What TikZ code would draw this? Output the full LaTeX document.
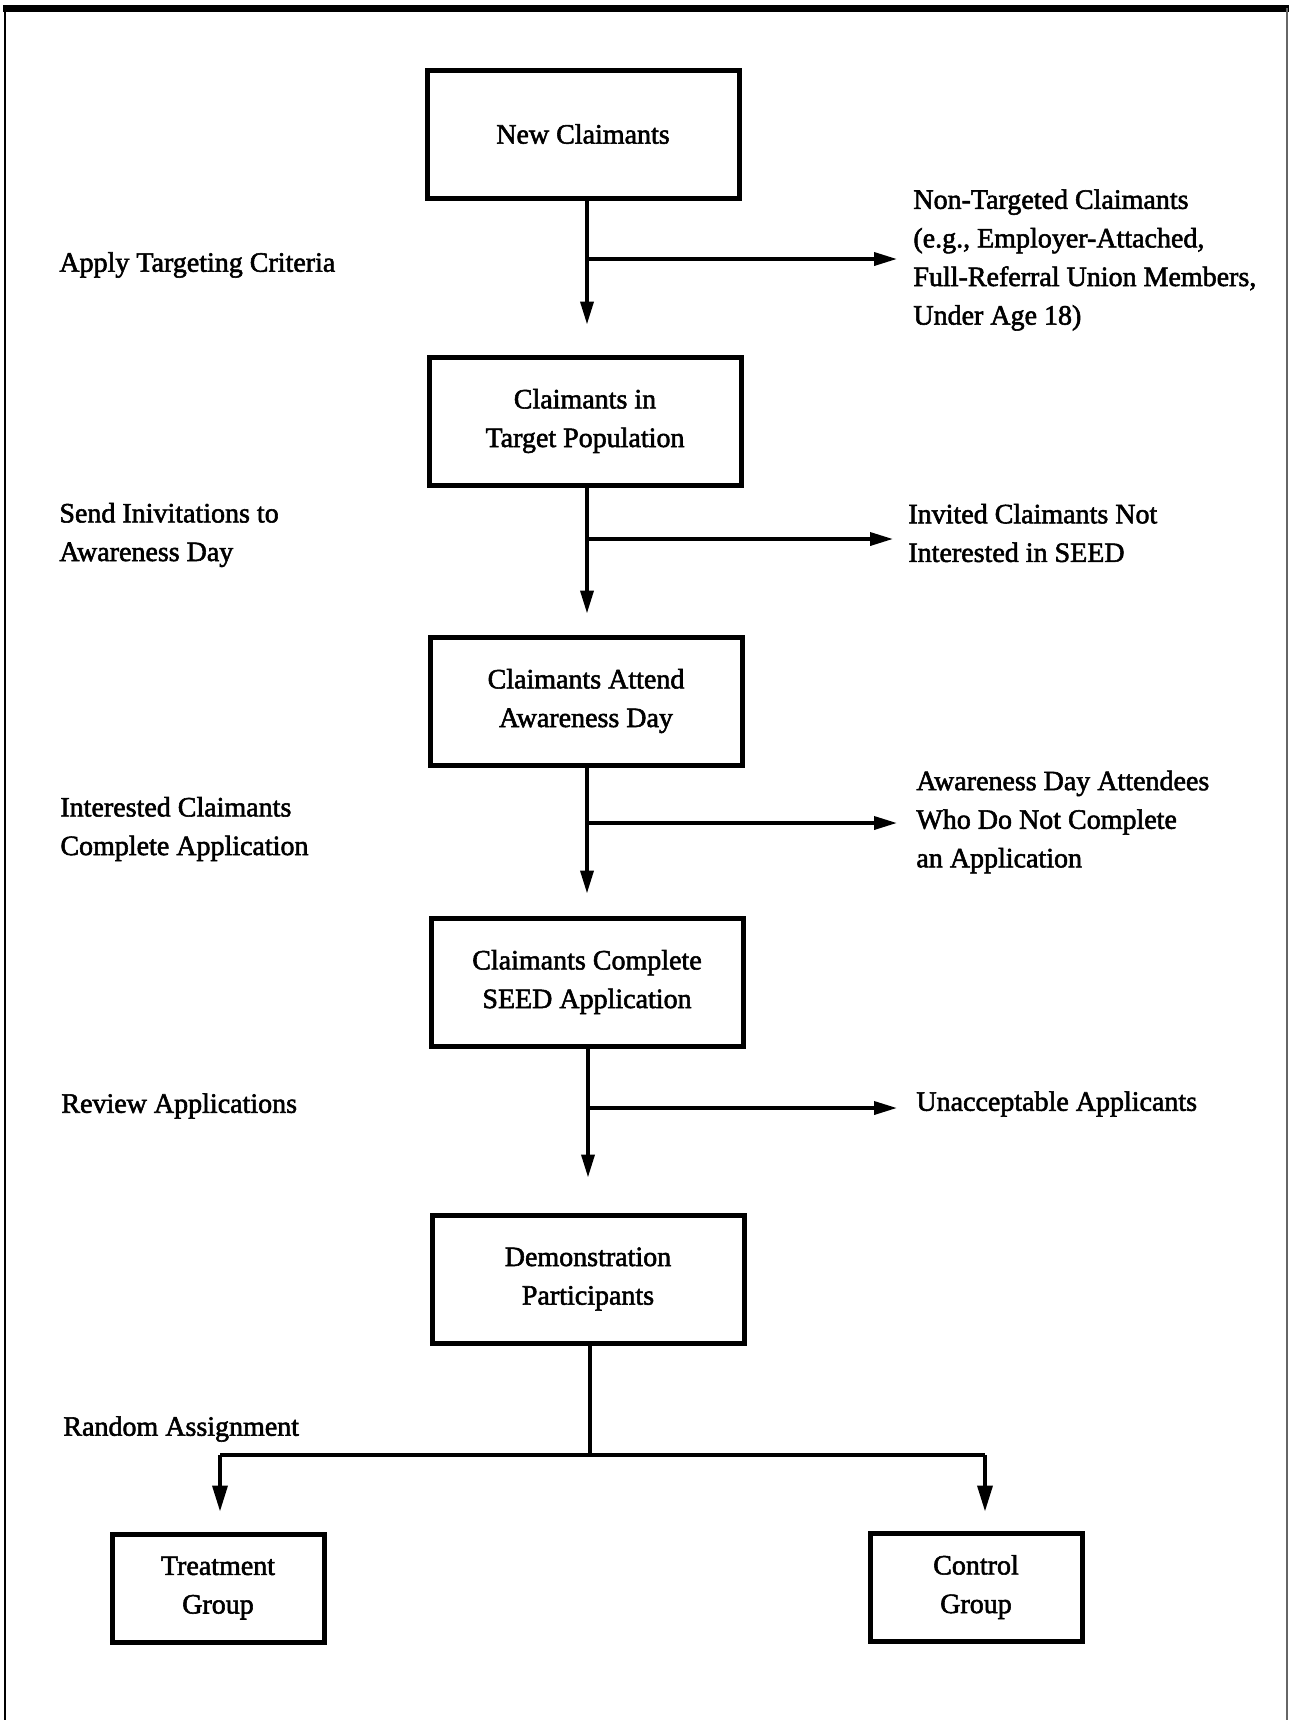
\documentclass[tikz,border=0pt]{standalone}
\usepackage{fontspec}
\setmainfont{Liberation Serif}[BoldFont={Liberation Serif}, BoldFeatures={FakeBold=2}]
\usetikzlibrary{arrows.meta}
\begin{document}
\begin{tikzpicture}[x=0.5pt,y=-0.5pt,
  every node/.style={font=\fontsize{14}{19.3}\selectfont\bfseries},
  box/.style={draw, line width=2.5pt, align=center, inner sep=0pt},
  bigbox/.style={box, minimum width=156pt, minimum height=64pt},
  smallbox/.style={box, minimum width=106pt, minimum height=54pt},
  lbl/.style={anchor=west, align=left, inner sep=0pt},
  conn/.style={line width=1.8pt},
  arr/.style={conn, -{Triangle[length=11.5pt,width=6.5pt]}},
  arrb/.style={conn, -{Triangle[length=13pt,width=7.5pt]}}]
\useasboundingbox (0,0) rectangle (1289,1720);
% frame
\draw[line width=3.5pt] (3,8) -- (1289,8);
\draw[line width=1pt] (5,8) -- (5,1720);
\draw[line width=0.8pt, black!60] (1287,8) -- (1287,1720);

% main boxes
\node[bigbox] (b1) at (583,134) {New Claimants};
\node[bigbox] (b2) at (585,421) {Claimants in\\Target Population};
\node[bigbox] (b3) at (586,701) {Claimants Attend\\Awareness Day};
\node[bigbox] (b4) at (587,982) {Claimants Complete\\SEED Application};
\node[bigbox] (b5) at (588,1279) {Demonstration\\Participants};
\node[smallbox] (t) at (218,1588) {Treatment\\Group};
\node[smallbox] (c) at (976,1587) {Control\\Group};

% left labels
\node[lbl] (l1) at (59,265) {Apply Targeting Criteria};
\node[lbl] (l2) at (59,535) {Send Inivitations to\\Awareness Day};
\node[lbl] (l3) at (60,829) {Interested Claimants\\Complete Application};
\node[lbl] (l4) at (61,1106) {Review Applications};
\node[lbl] (l5) at (63,1429) {Random Assignment};

% right labels
\node[lbl] (r1) at (913,260) {Non-Targeted Claimants\\(e.g., Employer-Attached,\\Full-Referral Union Members,\\Under Age 18)};
\node[lbl] (r2) at (908,533) {Invited Claimants Not\\Interested in SEED};
\node[lbl] (r3) at (916,822) {Awareness Day Attendees\\Who Do Not Complete\\an Application};
\node[lbl] (r4) at (916,1104) {Unacceptable Applicants};

% junctions
\coordinate (j1) at (587,259);
\coordinate (j2) at (587,539);
\coordinate (j3) at (587,823);
\coordinate (j4) at (588,1108);
\coordinate (j5) at (590,1455);
\coordinate (jt) at (220,1455);
\coordinate (jc) at (985,1455);

% down arrows
\draw[arr, shorten >=15pt] (b1.south -| j1) -- (b2.north -| j1);
\draw[arr, shorten >=10.5pt] (b2.south -| j2) -- (b3.north -| j2);
\draw[arr, shorten >=11pt] (b3.south -| j3) -- (b4.north -| j3);
\draw[arr, shorten >=17.5pt] (b4.south -| j4) -- (b5.north -| j4);

% side arrows
\draw[arr, shorten >=8pt] (j1) -- (j1 -| r1.west);
\draw[arr, shorten >=7.5pt] (j2) -- (j2 -| r2.west);
\draw[arr, shorten >=9.5pt] (j3) -- (j3 -| r3.west);
\draw[arr, shorten >=9.5pt] (j4) -- (j4 -| r4.west);

% random assignment split
\draw[conn] (b5.south -| j5) -- (j5);
\draw[conn] (jt) -- (jc);
\draw[arrb, shorten >=10pt] (jt) -- (jt |- t.north);
\draw[arrb, shorten >=9.5pt] (jc) -- (jc |- c.north);
\end{tikzpicture}
\end{document}
